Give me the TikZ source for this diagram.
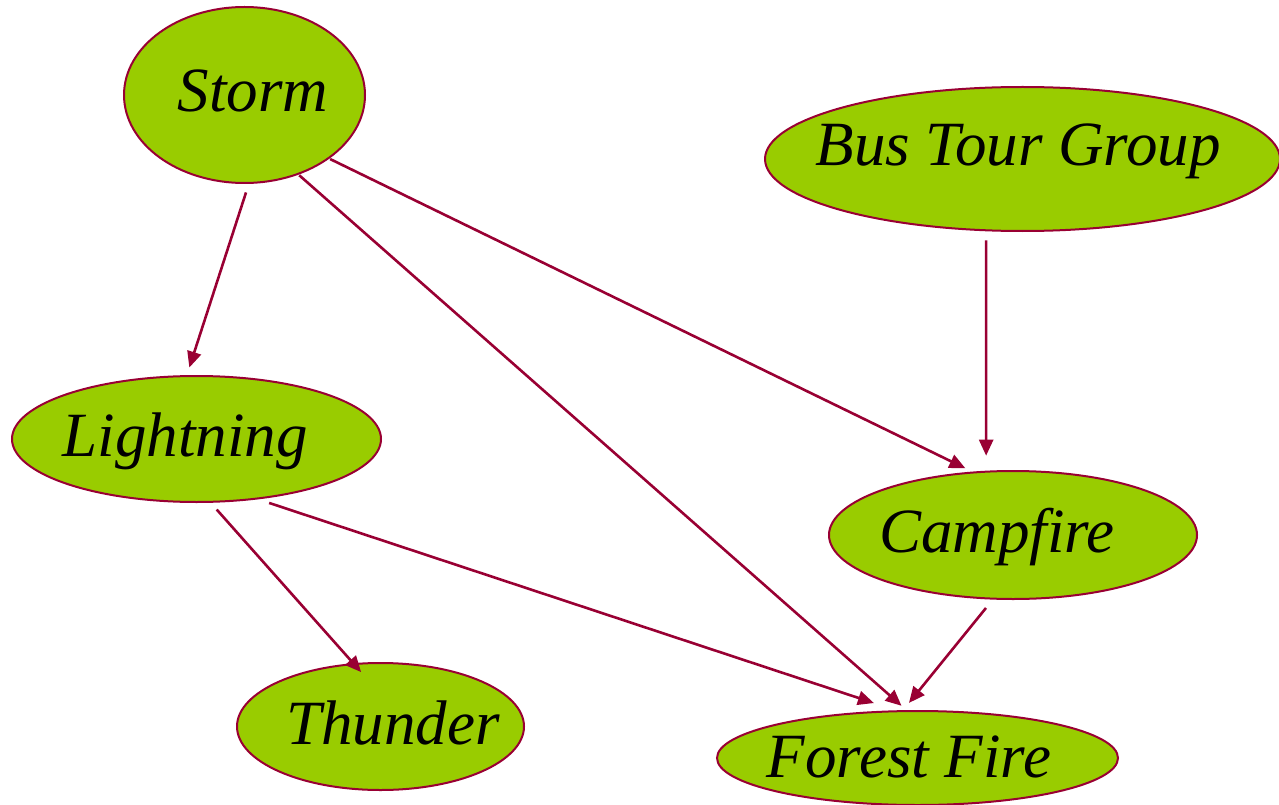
\documentclass[tikz,border=0pt]{standalone}
\usepackage{fontspec}
\setmainfont{Liberation Serif}
\usetikzlibrary{arrows.meta,shapes.geometric}
\definecolor{leaf}{HTML}{99CC00}
\definecolor{wine}{HTML}{990033}
\begin{document}
\begin{tikzpicture}[x=1pt,y=-1pt,
  bubble/.style={ellipse, draw=wine, line width=2pt, fill=leaf, inner sep=0pt, outer sep=0pt},
  caption/.style={anchor=base, inner sep=0pt, font=\fontsize{63}{70}\selectfont\itshape},
  link/.style={draw=wine, line width=2.6pt, -{Triangle[length=16pt,width=14pt]}}]
\useasboundingbox (0,0) rectangle (1279,805);

% variables
\node[bubble, minimum width=241pt, minimum height=176pt] (storm)     at (244.5,95)  {};
\node[bubble, minimum width=515pt, minimum height=144pt] (bus)       at (1022.5,159) {};
\node[bubble, minimum width=369pt, minimum height=126pt] (lightning) at (196.5,439) {};
\node[bubble, minimum width=368pt, minimum height=128pt] (campfire)  at (1013,535)  {};
\node[bubble, minimum width=287pt, minimum height=127pt] (thunder)   at (380.5,726.5) {};
\node[bubble, minimum width=401pt, minimum height=94pt]  (forest)    at (917.5,758) {};

% labels
\node[caption] (storm-t)     at (253,112)  {Storm};
\node[caption] (bus-t)       at (1018,166) {Bus Tour Group};
\node[caption] (lightning-t) at (185,456)  {Lightning};
\node[caption] (campfire-t)  at (997,552)  {Campfire};
\node[caption] (thunder-t)   at (393,744)  {Thunder};
\node[caption] (forest-t)    at (909,777)  {Forest Fire};

% dependencies
\draw[link, shorten <=10pt, shorten >=9pt]    (storm.-87.4)     -- (lightning.99);
\draw[link, shorten <=2pt,  shorten >=8pt]    (storm.-56.8)     -- (forest.102.3);
\draw[link, shorten <=2pt,  shorten >=9.5pt]  (storm.-37.4)     -- (campfire.122.4);
\draw[link, shorten <=10pt, shorten >=16pt]   (bus.-117.1)      -- (campfire.113.1);
\draw[link, shorten <=10.3pt, shorten >=-10.7pt] (lightning.-78.9) -- (thunder.113.1);
\draw[link, shorten <=13.7pt, shorten >=26pt] (lightning.-45.1) -- (forest.112.4);
\draw[link, shorten <=12pt, shorten >=10.6pt] (campfire.-107.8) -- (forest.108.4);
\end{tikzpicture}
\end{document}
